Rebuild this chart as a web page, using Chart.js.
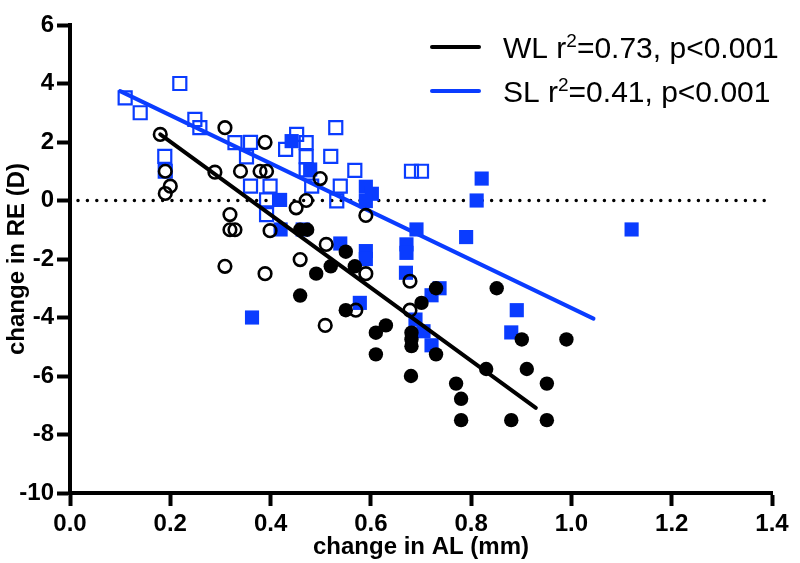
<!DOCTYPE html>
<html>
<head>
<meta charset="utf-8">
<title>change in RE vs change in AL</title>
<script src="https://cdn.jsdelivr.net/npm/chart.js@4/dist/chart.umd.min.js"></script>
<style>
    html, body { margin: 0; padding: 0; background: #ffffff; }
    #wrap { width: 800px; height: 563px; }
</style>
</head>
<body>
<div id="wrap"><canvas id="scatterChart"></canvas></div>
<script>
// WL - open circles
const wlOpenX = [0.18, 0.309, 0.19, 0.20, 0.19, 0.289, 0.319, 0.319, 0.329, 0.309, 0.389, 0.34, 0.379, 0.392,
    0.499, 0.471, 0.451, 0.399, 0.511, 0.459, 0.389, 0.59, 0.59, 0.678, 0.57, 0.509, 0.678];
const wlOpenY = [2.26, 2.49, 1.0, 0.49, 0.24, 0.97, -0.48, -1.0, -1.0, -2.25, 1.99, 1.0, 1.0, 1.0,
    0.75, 0.0, -0.25, -1.03, -1.5, -2.02, -2.5, -0.51, -2.5, -2.76, -3.75, -4.27, -3.75];

// WL - filled circles
const wlFilledX = [0.459, 0.473, 0.55, 0.52, 0.491, 0.459, 0.568, 0.55, 0.73, 0.701, 0.851, 0.63, 0.61, 0.681,
    0.681, 0.681, 0.901, 0.99, 0.61, 0.68, 0.73, 0.77, 0.78, 0.78, 0.83, 0.88, 0.911, 0.951, 0.951];
const wlFilledY = [-1.0, -1.0, -1.75, -2.25, -2.5, -3.25, -2.25, -3.75, -3.0, -3.5, -3.0, -4.27, -4.52, -4.52,
    -4.75, -4.98, -4.75, -4.75, -5.26, -6.0, -5.26, -6.26, -6.78, -7.51, -5.76, -7.51, -5.76, -6.26, -7.51];

// SL - open squares
const slOpenX = [0.11, 0.14, 0.219, 0.249, 0.259, 0.189, 0.19, 0.329, 0.36, 0.352, 0.452, 0.43, 0.471, 0.471,
    0.471, 0.53, 0.52, 0.568, 0.539, 0.36, 0.399, 0.482, 0.392, 0.392, 0.532, 0.681, 0.701];
const slOpenY = [3.51, 3.0, 4.0, 2.77, 2.49, 1.51, 1.0, 1.98, 1.99, 1.49, 2.26, 1.75, 1.98, 1.5,
    1.05, 2.49, 1.51, 1.03, 0.49, 0.49, 0.49, 0.49, 0.02, -0.48, -0.01, 1.0, 1.0];

// SL - filled squares
const slFilledX = [0.442, 0.479, 0.419, 0.42, 0.464, 0.539, 0.363, 0.59, 0.602, 0.59, 0.821, 0.811, 0.691, 0.79,
    0.59, 0.59, 0.671, 0.671, 0.67, 0.578, 0.721, 0.737, 0.689, 0.705, 0.721, 0.891, 0.88, 1.12];
const slFilledY = [2.03, 1.06, 0.02, -0.99, -0.99, -1.47, -4.0, 0.47, 0.23, -0.02, 0.75, 0.0, -0.99, -1.25,
    -1.73, -2.0, -1.5, -1.79, -2.47, -3.5, -3.24, -3.0, -4.07, -4.47, -4.95, -3.75, -4.51, -0.99];

// regression lines (end points)
const wlFitX = [0.18, 0.929];
const wlFitY = [2.26, -7.09];
const slFitX = [0.10, 1.044];
const slFitY = [3.74, -4.04];

// dotted zero reference
const zeroX = [0.0, 1.4];
const zeroY = [0, 0];

// axis setup
const xMin = 0, xMax = 1.4, xStep = 0.2;
const yMin = -10, yMax = 6, yStep = 2;

// legend text
const legendNames = ['WL', 'SL'];
const legendR2 = ['0.73', '0.41'];
const legendP = ['p<0.001', 'p<0.001'];

const wlColor = '#000000';
const slColor = '#0a3cff';
const fontFamily = "'Liberation Sans', Arial, Helvetica, sans-serif";

function toPoints(xs, ys) {
    return xs.map((x, i) => ({ x: x, y: ys[i] }));
}

// Legend drawn inside the plot, with a superscript 2
const fitLegend = {
    id: 'fitLegend',
    afterDraw(chart) {
        const ctx = chart.ctx;
        const area = chart.chartArea;
        const colors = [wlColor, slColor];
        const lineX0 = area.right - 340;
        const lineX1 = area.right - 293;
        const textX = area.right - 269;
        ctx.save();
        legendNames.forEach((name, i) => {
            const midY = area.top + 22 + i * 44;
            ctx.strokeStyle = colors[i];
            ctx.lineWidth = 4;
            ctx.lineCap = 'round';
            ctx.beginPath();
            ctx.moveTo(lineX0, midY);
            ctx.lineTo(lineX1, midY);
            ctx.stroke();

            const baseY = midY + 11;
            ctx.fillStyle = '#000000';
            ctx.textBaseline = 'alphabetic';
            ctx.textAlign = 'left';
            ctx.font = '30px ' + fontFamily;
            let x = textX;
            const head = name + ' r';
            ctx.fillText(head, x, baseY);
            x += ctx.measureText(head).width;
            ctx.font = '19px ' + fontFamily;
            ctx.fillText('2', x, baseY - 11);
            x += ctx.measureText('2').width;
            ctx.font = '30px ' + fontFamily;
            ctx.fillText('=' + legendR2[i] + ', ' + legendP[i], x, baseY);
        });
        ctx.restore();
    }
};

const ctx = document.getElementById('scatterChart').getContext('2d');
const scatterChart = new Chart(ctx, {
    type: 'scatter',
    data: {
        datasets: [
            {
                type: 'line',
                label: 'WL fit',
                data: toPoints(wlFitX, wlFitY),
                borderColor: wlColor,
                borderWidth: 4,
                borderCapStyle: 'round',
                pointRadius: 0,
                fill: false,
                order: 1
            },
            {
                label: 'WL filled',
                data: toPoints(wlFilledX, wlFilledY),
                pointStyle: 'circle',
                pointRadius: 7.2,
                pointBackgroundColor: wlColor,
                pointBorderColor: wlColor,
                pointBorderWidth: 0,
                order: 2
            },
            {
                label: 'WL open',
                data: toPoints(wlOpenX, wlOpenY),
                pointStyle: 'circle',
                pointRadius: 6.3,
                pointBackgroundColor: 'rgba(0,0,0,0)',
                pointBorderColor: wlColor,
                pointBorderWidth: 2.6,
                order: 3
            },
            {
                type: 'line',
                label: 'SL fit',
                data: toPoints(slFitX, slFitY),
                borderColor: slColor,
                borderWidth: 4,
                borderCapStyle: 'round',
                pointRadius: 0,
                fill: false,
                order: 4
            },
            {
                label: 'SL filled',
                data: toPoints(slFilledX, slFilledY),
                pointStyle: 'rect',
                pointRadius: 10,
                pointBackgroundColor: slColor,
                pointBorderColor: slColor,
                pointBorderWidth: 0,
                order: 5
            },
            {
                label: 'SL open',
                data: toPoints(slOpenX, slOpenY),
                pointStyle: 'rect',
                pointRadius: 9.2,
                pointBackgroundColor: 'rgba(0,0,0,0)',
                pointBorderColor: slColor,
                pointBorderWidth: 2.2,
                order: 6
            },
            {
                type: 'line',
                label: 'zero',
                data: toPoints(zeroX, zeroY),
                borderColor: '#000000',
                borderWidth: 3.5,
                borderDash: [0, 9.4],
                borderDashOffset: -8,
                borderCapStyle: 'round',
                pointRadius: 0,
                fill: false,
                order: 7
            }
        ]
    },
    options: {
        responsive: true,
        maintainAspectRatio: false,
        animation: false,
        layout: {
            padding: { top: 25, right: 28, bottom: 0, left: 0 }
        },
        scales: {
            x: {
                type: 'linear',
                min: xMin,
                max: xMax,
                grid: {
                    drawOnChartArea: false,
                    drawTicks: true,
                    tickLength: 13,
                    tickWidth: 4,
                    tickColor: '#000000'
                },
                border: { display: true, color: '#000000', width: 4 },
                ticks: {
                    stepSize: xStep,
                    color: '#000000',
                    padding: 4,
                    font: { family: fontFamily, size: 24, weight: 'bold' },
                    callback: value => value.toFixed(1)
                },
                title: {
                    display: true,
                    text: 'change in AL (mm)',
                    color: '#000000',
                    font: { family: fontFamily, size: 24, weight: 'bold' },
                    padding: { top: 0, bottom: 1 }
                },
                afterFit: scale => {
                    scale.height = 70;
                    scale.paddingLeft = 0;
                    scale.paddingRight = 0;
                }
            },
            y: {
                type: 'linear',
                min: yMin,
                max: yMax,
                grid: {
                    drawOnChartArea: false,
                    drawTicks: true,
                    tickLength: 13,
                    tickWidth: 4,
                    tickColor: '#000000'
                },
                border: { display: true, color: '#000000', width: 4 },
                ticks: {
                    stepSize: yStep,
                    color: '#000000',
                    padding: 3,
                    font: { family: fontFamily, size: 24, weight: 'bold' }
                },
                title: {
                    display: true,
                    text: 'change in RE (D)',
                    color: '#000000',
                    font: { family: fontFamily, size: 24, weight: 'bold' },
                    padding: { top: 3, bottom: 0 }
                },
                afterFit: scale => {
                    scale.width = 70;
                    scale.paddingTop = 0;
                    scale.paddingBottom = 0;
                }
            }
        },
        plugins: {
            legend: { display: false },
            tooltip: { enabled: false }
        }
    },
    plugins: [fitLegend]
});
</script>
</body>
</html>
